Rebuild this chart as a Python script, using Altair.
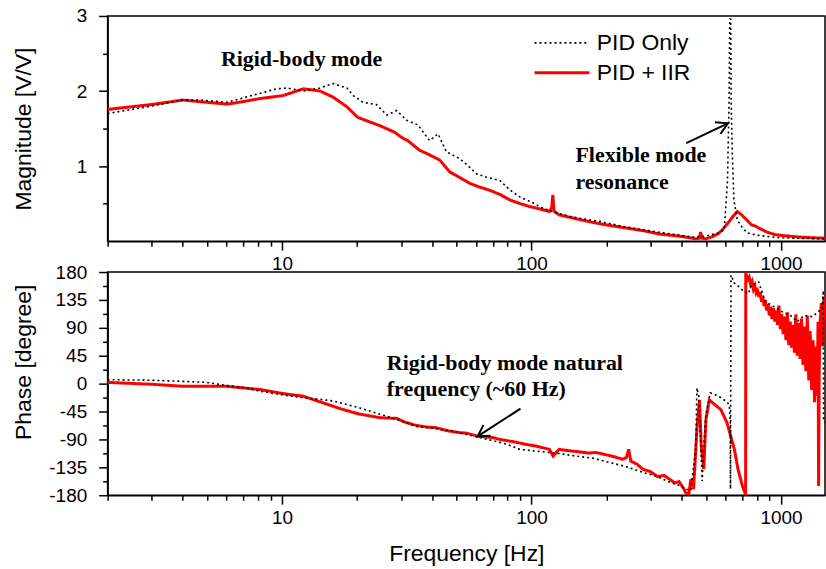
import altair as alt
import pandas as pd

SERIES = ["PID Only", "PID + IIR"]

# Magnitude response, PID only (Hz, V/V)
mag_pid_freq = [2, 3, 4, 4.7, 6, 7.2, 8.4, 9.5, 10.5, 12.2, 14.2, 16, 18.2, 19.3, 21.1,
                23.9, 26.3, 28.8, 31.6, 35, 39, 42.2, 45.6, 51.5, 55, 60, 66, 74.5, 82, 89.7,
                100, 111, 125, 142, 165, 190, 230, 279, 340, 400, 442, 480, 520, 560, 592,
                610, 619, 623, 628, 631, 637, 647, 668, 700, 732, 800, 868, 950, 1100, 1300, 1500]
mag_pid_val = [1.70, 1.80, 1.88, 1.88, 1.85, 1.92, 1.98, 2.03, 2.04, 2.00, 2.04, 2.10, 2.04, 1.94, 1.85,
               1.82, 1.68, 1.74, 1.61, 1.55, 1.34, 1.43, 1.19, 1.10, 1.02, 0.90, 0.85, 0.81, 0.68, 0.59,
               0.52, 0.44, 0.38, 0.33, 0.29, 0.26, 0.20, 0.15, 0.11, 0.075, 0.055, 0.06, 0.08, 0.11, 0.15,
               0.81, 1.87, 2.96, 2.96, 1.87, 1.21, 0.55, 0.28, 0.18, 0.11, 0.08, 0.064, 0.05, 0.04, 0.035, 0.03]

# Magnitude response, PID + IIR notch
mag_iir_freq = [2, 3, 4, 5, 6.03, 7, 8.17, 10.1, 12.2, 14.2, 16, 18.2, 20.1, 22, 24.6,
                28.3, 30.5, 31.9, 35.6, 37.9, 42.9, 46.9, 52, 56.5, 62, 67.8, 75, 81.7, 90, 98.4,
                108, 118, 120.5, 121.7, 123, 129, 150, 175.8, 205, 239, 280, 325, 370, 415, 455,
                470, 476, 482, 498, 530, 560, 581, 619, 645, 667, 690, 720, 760, 790, 813,
                880, 948, 1050, 1180, 1350, 1500]
mag_iir_val = [1.755, 1.82, 1.88, 1.85, 1.825, 1.86, 1.90, 1.94, 2.03, 2.00, 1.92, 1.79, 1.65, 1.60, 1.54,
               1.45, 1.37, 1.34, 1.21, 1.17, 1.08, 0.925, 0.84, 0.77, 0.72, 0.68, 0.62, 0.55, 0.50, 0.46,
               0.43, 0.395, 0.45, 0.616, 0.40, 0.35, 0.30, 0.25, 0.21, 0.175, 0.14, 0.095, 0.075, 0.055, 0.03,
               0.04, 0.12, 0.04, 0.03, 0.06, 0.10, 0.15, 0.26, 0.34, 0.395, 0.36, 0.30, 0.22, 0.20, 0.175,
               0.12, 0.086, 0.07, 0.055, 0.045, 0.04]

# Phase response, PID only (degrees)
ph_pid_freq = [2, 3, 4, 5, 6, 7, 8.2, 10, 12.2, 14, 16, 20, 25.5, 30, 34.6,
               40, 48.4, 55, 62, 70, 80, 89.7, 100, 118, 130, 151, 175, 205, 240, 279,
               320, 357, 390, 415, 435, 455, 460, 468, 476, 483, 490, 500, 520, 545, 570,
               590, 610, 620, 626, 627, 630, 650, 670, 700, 739, 761, 813, 866, 922, 1010,
               1090, 1160, 1235, 1334, 1400, 1460, 1476, 1480, 1500]
ph_pid_val = [6.4, 5.5, 3.7, 2, -3.2, -6, -12.4, -18, -23, -25, -28, -38, -51, -60, -69,
              -72, -76.7, -82, -87, -92, -98, -106, -108, -111, -113, -117, -120, -127, -134, -143,
              -150, -159, -164, -170, -172, -106, -7, -20, -90, -157, -101, -50, -15, -18, -22,
              -26, -30, -36, -60, -170, 175, 162, 158, 151, 145, 159, 164, 132, 126, 116,
              110, 100, 110, 108, 115, 121, 150, -61, -63]

# Phase response, PID + IIR notch
ph_iir_freq = [2, 3, 4.03, 6, 8.2, 10.1, 12.2, 14.6, 17, 20.2, 24.7, 28.8, 31, 34.6, 38,
               41.5, 46, 51.5, 55, 61, 66, 70, 74.5, 80, 88, 95, 105, 118, 122, 129,
               140, 155, 170, 181, 200, 215, 232, 240, 245, 250, 265, 279, 300, 320, 340,
               357, 375, 390, 405, 415, 427, 435, 446, 460, 471, 479, 490, 500, 516, 532,
               574, 607, 650, 672, 700, 721,
               722, 725, 735, 745, 755, 765, 775, 785, 795, 805, 815, 825, 835, 845, 855,
               865, 875, 886, 897, 908, 920, 932, 944, 956, 968, 980, 993, 1006, 1019, 1032,
               1046, 1060, 1074, 1088, 1102, 1116, 1131, 1146, 1161, 1176, 1192, 1208, 1224, 1240, 1257,
               1274, 1291, 1308, 1326, 1344, 1362, 1380, 1398, 1406, 1414, 1422, 1430, 1449, 1468, 1487,
               1500]
ph_iir_val = [2, -1, -4.3, -4.3, -9.6, -16, -20.4, -31, -40, -48.7, -55, -56, -62, -67.5, -70,
              -71, -76, -79, -80, -84.6, -86, -87, -90, -92, -95, -98, -101, -106, -117, -106,
              -108, -110, -112, -111, -115, -118, -122, -119, -106, -125, -130, -138, -142, -150, -148,
              -154, -160, -158, -168, -176, -178, -154, -170, -74, -26, -101, -138, -58, -26, -31,
              -42, -63, -106, -138, -165, -179,
              179, 176, 168, 172, 160, 165, 152, 158, 146, 150, 140, 148, 132, 140, 125,
              135, 118, 128, 110, 124, 104, 122, 100, 118, 95, 126, 88, 112, 80, 108,
              70, 115, 62, 100, 58, 95, 50, 112, 45, 98, 40, 105, 30, 92, 20,
              110, 5, 85, -10, 70, -30, 60, -20, 100, -165, 20, 90, 130, 60, 140,
              120]

# Axis tick positions
freq_ticks = [2, 3, 4, 5, 6, 7, 8, 9, 10, 20, 30, 40, 50, 60, 70, 80, 90,
              100, 200, 300, 400, 500, 600, 700, 800, 900, 1000]
mag_ticks = [0.5, 1, 1.5, 2, 2.5, 3]
phase_ticks = [-180, -157.5, -135, -112.5, -90, -67.5, -45, -22.5, 0,
               22.5, 45, 67.5, 90, 112.5, 135, 157.5, 180]

# Annotations
mag_note_text = ["Rigid-body mode", "Flexible mode", "resonance"]
mag_note_freq = [5.69, 150, 150]
mag_note_val = [2.33, 1.053, 0.689]
phase_note_text = ["Rigid-body mode natural", "frequency (~60 Hz)"]
phase_note_freq = [26.3, 26.3]
phase_note_val = [22.5, -20.4]

mag_arrow = {"f0": [417], "v0": [1.305], "f1": [612], "v1": [1.57]}
phase_arrow = {"f0": [90.3], "v0": [-40.2], "f1": [60.8], "v1": [-85.2]}


def series_frame(freq, val, name):
    return pd.DataFrame({"freq": freq, "value": val, "series": name})


mag_pid = series_frame(mag_pid_freq, mag_pid_val, SERIES[0])
mag_iir = series_frame(mag_iir_freq, mag_iir_val, SERIES[1])
ph_pid = series_frame(ph_pid_freq, ph_pid_val, SERIES[0])
ph_iir = series_frame(ph_iir_freq, ph_iir_val, SERIES[1])

W = 720
H_MAG = 226
H_PH = 224
SERIF = "Liberation Serif"

x_scale = alt.Scale(type="log", domain=[2, 1500])
mag_scale = alt.Scale(domain=[0, 3])
ph_scale = alt.Scale(domain=[-180, 180])
decade_test = "datum.value == 10 || datum.value == 100 || datum.value == 1000"


def freq_axis(title):
    return alt.Axis(
        values=freq_ticks,
        labelExpr="(" + decade_test + ") ? '' + datum.value : ''",
        tickSize={"condition": {"test": decade_test, "value": 9}, "value": 5},
        labelPadding=4,
        labelFlush=False,
        labelOverlap=False,
        title=title,
        titleY=66,
        titleBaseline="alphabetic",
    )


x_axis_top = freq_axis(None)
x_axis_bottom = freq_axis("Frequency [Hz]")

mag_axis = alt.Axis(
    values=mag_ticks, title="Magnitude [V/V]",
    labelExpr="datum.value % 1 == 0 ? '' + datum.value : ''",
    tickSize={"condition": {"test": "datum.value % 1 == 0", "value": 9}, "value": 5},
    labelPadding=12, labelFlush=False, labelOverlap=False,
    titleX=-77.5, titleBaseline="alphabetic",
)
ph_axis = alt.Axis(
    values=phase_ticks, title="Phase [degree]",
    labelExpr="datum.value % 45 == 0 ? '' + datum.value : ''",
    tickSize={"condition": {"test": "datum.value % 45 == 0", "value": 9}, "value": 5},
    labelPadding=12, labelFlush=False, labelOverlap=False,
    titleX=-77.5, titleY=90, titleBaseline="alphabetic",
)

legend = alt.Legend(
    orient="none", legendX=427, legendY=13, title=None,
    symbolType="stroke", symbolSize=3025, clipHeight=28, padding=0,
    labelOffset=6, labelFont="Liberation Sans", labelFontSize=23,
    labelColor="black", labelLimit=0,
)


def style_encodings(leg):
    return dict(
        color=alt.Color("series:N", scale=alt.Scale(domain=SERIES, range=["black", "#ff0000"]), legend=leg),
        strokeDash=alt.StrokeDash("series:N", scale=alt.Scale(domain=SERIES, range=[[2, 3], [1, 0]]), legend=leg),
        strokeWidth=alt.StrokeWidth("series:N", scale=alt.Scale(domain=SERIES, range=[1.6, 3]), legend=leg),
    )


def curve(df, x_axis, y_scale, y_axis, leg):
    return alt.Chart(df).mark_line(clip=True).encode(
        x=alt.X("freq:Q", scale=x_scale, axis=x_axis),
        y=alt.Y("value:Q", scale=y_scale, axis=y_axis),
        **style_encodings(leg),
    )


def notes(text, freq, val, x_axis, y_scale, y_axis):
    df = pd.DataFrame({"text": text, "freq": freq, "value": val})
    return alt.Chart(df).mark_text(
        font=SERIF, fontWeight="bold", fontSize=22, align="left",
        baseline="alphabetic", color="black",
    ).encode(
        x=alt.X("freq:Q", scale=x_scale, axis=x_axis),
        y=alt.Y("value:Q", scale=y_scale, axis=y_axis),
        text="text:N",
    )


def arrow(data, x_axis, y_scale, y_axis, angle):
    df = pd.DataFrame(data)
    shaft = alt.Chart(df).mark_rule(color="black", strokeWidth=2).encode(
        x=alt.X("f0:Q", scale=x_scale, axis=x_axis), x2="f1:Q",
        y=alt.Y("v0:Q", scale=y_scale, axis=y_axis), y2="v1:Q",
    )
    head = alt.Chart(df).mark_point(
        shape="M -0.5 0.87 L 0 0 L 0.5 0.87", filled=False, size=676,
        stroke="black", strokeWidth=2, opacity=1,
    ).encode(
        x=alt.X("f1:Q", scale=x_scale, axis=x_axis),
        y=alt.Y("v1:Q", scale=y_scale, axis=y_axis),
        angle=alt.value(angle),
    )
    return shaft + head


top = alt.layer(
    curve(mag_iir, x_axis_top, mag_scale, mag_axis, legend),
    curve(mag_pid, x_axis_top, mag_scale, mag_axis, legend),
    notes(mag_note_text, mag_note_freq, mag_note_val, x_axis_top, mag_scale, mag_axis),
    arrow(mag_arrow, x_axis_top, mag_scale, mag_axis, 64.5),
).properties(width=W, height=H_MAG)

bottom = alt.layer(
    curve(ph_iir, x_axis_bottom, ph_scale, ph_axis, None),
    curve(ph_pid, x_axis_bottom, ph_scale, ph_axis, None),
    notes(phase_note_text, phase_note_freq, phase_note_val, x_axis_bottom, ph_scale, ph_axis),
    arrow(phase_arrow, x_axis_bottom, ph_scale, ph_axis, 237),
).properties(width=W, height=H_PH)

chart = alt.vconcat(top, bottom, spacing=31, bounds="flush").resolve_scale(
    color="independent", strokeDash="independent", strokeWidth="independent",
).resolve_legend(
    color="independent", strokeDash="independent", strokeWidth="independent",
).properties(
    padding={"left": 11, "top": 5, "right": 0, "bottom": 0},
    background="white",
).configure_view(
    stroke="black", strokeWidth=1.5,
).configure_axis(
    domainColor="black", domainWidth=1.5, tickColor="black", tickWidth=1.5,
    labelColor="black", labelFont="Liberation Sans", labelFontSize=19,
    titleFont="Liberation Sans", titleFontSize=23, titleFontWeight="normal",
    titleColor="black", grid=False,
)

chart.save("out.html", embed_options={"renderer": "svg", "actions": False})
